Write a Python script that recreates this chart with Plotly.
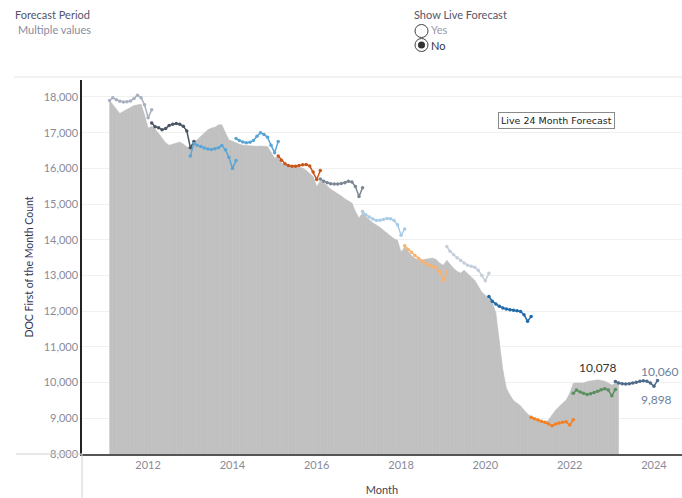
import pandas as pd
import plotly.graph_objects as go

# ---------------- data ----------------
actual_start = "2011-02-01"
actual_values = [
    17900, 17780, 17650, 17540, 17600, 17650, 17720, 17760, 17780, 17800, 17500,
    17130, 17180, 17100, 16980, 16850, 16720, 16650, 16680, 16720, 16740, 16680, 16600,
    16600, 16740, 16800, 16900, 17000, 17080, 17130, 17150, 17220, 17220, 17000, 16800,
    16760, 16710, 16680, 16650, 16640, 16620, 16610, 16620, 16630, 16620, 16610, 16450,
    16290, 16330, 16150, 16100, 16080, 16060, 16040, 16020, 16010, 15950, 15860, 15770,
    15490, 15650, 15600, 15500, 15420, 15350, 15300, 15230, 15150, 15090, 15030, 14800,
    14610, 14750, 14650, 14560, 14480, 14420, 14350, 14270, 14190, 14100, 14030, 13990,
    13660, 13800, 13680, 13560, 13480, 13430, 13440, 13450, 13470, 13490, 13450, 13350,
    13290, 13430, 13320, 13200, 13120, 13070, 13150, 13050, 12950, 12870, 12700, 12540,
    12450, 12350, 12260, 11950, 11200, 10350, 9850, 9650, 9500, 9420, 9350, 9230,
    9120, 9050, 8970, 8920, 8900, 8890, 8950, 9100, 9230, 9330, 9420, 9510,
    9700, 9980, 9990, 10000, 9990, 10030, 10040, 10060, 10078, 10060, 10040, 9990,
    9930, 9980, 10020,
]

fc_2011_start = "2011-02-01"
fc_2011 = [17900, 17980, 17920, 17880, 17860, 17870, 17890, 17960, 18050, 17980, 17780, 17420, 17640]
fc_2012_start = "2012-02-01"
fc_2012 = [17270, 17170, 17140, 17080, 17120, 17200, 17240, 17260, 17240, 17180, 17050, 16580, 16750]
fc_2013_start = "2013-01-01"
fc_2013 = [16350, 16700, 16650, 16610, 16570, 16540, 16530, 16550, 16580, 16640, 16520, 16310, 16000, 16220]
fc_2014_start = "2014-02-01"
fc_2014 = [16840, 16780, 16740, 16720, 16730, 16780, 16900, 17000, 16950, 16870, 16650, 16440, 16750]
fc_2015_start = "2015-02-01"
fc_2015 = [16350, 16230, 16130, 16080, 16060, 16060, 16080, 16100, 16110, 16070, 15900, 15690, 15940]
fc_2016_start = "2016-02-01"
fc_2016 = [15700, 15640, 15600, 15570, 15560, 15560, 15580, 15600, 15640, 15620, 15490, 15210, 15460]
fc_2017_start = "2017-02-01"
fc_2017 = [14790, 14700, 14640, 14580, 14540, 14550, 14570, 14600, 14590, 14540, 14420, 14130, 14300]
fc_2018_start = "2018-02-01"
fc_2018 = [13830, 13730, 13650, 13560, 13480, 13400, 13340, 13290, 13250, 13220, 13110, 12870, 13100]
fc_2019_start = "2019-02-01"
fc_2019 = [13810, 13680, 13580, 13500, 13420, 13350, 13290, 13260, 13230, 13150, 13000, 12850, 13060]
fc_2020_start = "2020-02-01"
fc_2020 = [12410, 12280, 12200, 12140, 12090, 12060, 12040, 12030, 12010, 11990, 11900, 11720, 11850]
fc_2021_start = "2021-02-01"
fc_2021 = [9030, 8990, 8950, 8920, 8890, 8850, 8790, 8840, 8870, 8890, 8900, 8810, 8960]
fc_2022_start = "2022-02-01"
fc_2022 = [9700, 9790, 9740, 9700, 9670, 9690, 9720, 9760, 9800, 9830, 9790, 9630, 9810]
fc_2023_start = "2023-02-01"
fc_2023 = [10030, 9990, 9970, 9960, 9970, 9990, 10010, 10040, 10050, 10040, 9990, 9898, 10060]

forecasts = [
    (fc_2011_start, fc_2011, "#a9b1c1"),
    (fc_2012_start, fc_2012, "#4b5463"),
    (fc_2013_start, fc_2013, "#5aa5d6"),
    (fc_2014_start, fc_2014, "#5aa5d6"),
    (fc_2015_start, fc_2015, "#c9561a"),
    (fc_2016_start, fc_2016, "#7b8794"),
    (fc_2017_start, fc_2017, "#a8cce8"),
    (fc_2018_start, fc_2018, "#f9b26e"),
    (fc_2019_start, fc_2019, "#c4ceda"),
    (fc_2020_start, fc_2020, "#1f6aa8"),
    (fc_2021_start, fc_2021, "#f57f20"),
    (fc_2022_start, fc_2022, "#5a8f5f"),
    (fc_2023_start, fc_2023, "#4e6b8a"),
]

y_ticks = [8000, 9000, 10000, 11000, 12000, 13000, 14000, 15000, 16000, 17000, 18000]

# ---------------- figure ----------------
W, H = 682, 498
ML, MR, MT, MB = 82, 0, 80, 44
PW, PH = W - ML - MR, H - MT - MB
Y_MIN = 8000


def px(x):
    return (x - ML) / PW


def py(y):
    return (H - MB - y) / PH


fig = go.Figure()

actual_dates = pd.date_range(actual_start, periods=len(actual_values), freq="MS")
fig.add_trace(go.Scatter(
    x=actual_dates, y=actual_values, mode="lines",
    line=dict(color="#c0c0c0", width=0.5),
    fill="tozeroy", fillcolor="#c0c0c0", hoverinfo="x+y", showlegend=False,
))
# faint month seams inside the area (as Tableau renders them)
sx, sy = [], []
for d, v in zip(actual_dates, actual_values):
    sx += [d, d, None]
    sy += [Y_MIN, v, None]
fig.add_trace(go.Scatter(x=sx, y=sy, mode="lines", line=dict(color="#c6c6c6", width=0.5),
                         hoverinfo="skip", showlegend=False))

for start, vals, col in forecasts:
    d = pd.date_range(start, periods=len(vals), freq="MS")
    fig.add_trace(go.Scatter(
        x=d, y=vals, mode="lines+markers",
        line=dict(color=col, width=1.5),
        marker=dict(color=col, size=3.5),
        showlegend=False,
    ))

font = "Lato, 'Open Sans', sans-serif"

# value labels
peak_i = actual_values.index(max(actual_values[120:]))
fig.add_annotation(x=actual_dates[peak_i], y=actual_values[peak_i], text="10,078",
                   showarrow=False, yshift=12, font=dict(family=font, size=12, color="#333333"))
last_dates = pd.date_range(fc_2023_start, periods=len(fc_2023), freq="MS")
min_i = fc_2023.index(min(fc_2023))
fig.add_annotation(x=last_dates[min_i], y=fc_2023[min_i], text=f"{fc_2023[min_i]:,}",
                   showarrow=False, yshift=-13, xshift=3,
                   font=dict(family=font, size=12, color="#6b829c"))
fig.add_annotation(xref="paper", x=1.0, y=fc_2023[-1], text=f"{fc_2023[-1]:,}",
                   showarrow=False, xanchor="right", xshift=-1, yshift=9,
                   font=dict(family=font, size=12, color="#6b829c"))

# legend-like box
fig.add_annotation(xref="paper", yref="paper", x=px(615), y=py(112),
                   text="Live 24 Month Forecast", showarrow=False,
                   bordercolor="#8a8a8a", borderwidth=1, borderpad=2, bgcolor="white",
                   font=dict(family="'DejaVu Sans', sans-serif", size=9.5, color="#222222"))

# header texts
def txt(x, y, s, color, size=11):
    fig.add_annotation(xref="paper", yref="paper", x=px(x), y=py(y), text=s,
                       showarrow=False, xanchor="left", yanchor="middle",
                       font=dict(family=font, size=size, color=color))

txt(13, 15, "Forecast Period", "#55556a")
txt(16, 30, "Multiple values", "#8a8aa0")
txt(412, 15, "Show Live Forecast", "#55556a")
txt(429, 30, "Yes", "#9a9aa8")
txt(429, 45, "No", "#333344")

shapes = []
# radio buttons
for cy, filled in [(31, False), (45, True)]:
    shapes.append(dict(type="circle", xref="paper", yref="paper",
                       x0=px(415), x1=px(428), y0=py(cy + 6.5), y1=py(cy - 6.5),
                       line=dict(color="#444444", width=1), fillcolor="white"))
    if filled:
        shapes.append(dict(type="circle", xref="paper", yref="paper",
                           x0=px(418), x1=px(425), y0=py(cy + 3.5), y1=py(cy - 3.5),
                           line=dict(color="#333333", width=0), fillcolor="#333333"))
# separator and pane lines
shapes.append(dict(type="line", xref="paper", yref="paper", x0=px(14), x1=px(682),
                   y0=py(77), y1=py(77), line=dict(color="#e4e4e4", width=1)))
shapes.append(dict(type="line", xref="paper", yref="paper", x0=px(16), x1=px(82),
                   y0=0, y1=0, line=dict(color="#d0d0d0", width=1)))
shapes.append(dict(type="line", xref="paper", yref="paper", x0=0, x1=0,
                   y0=0, y1=py(498), line=dict(color="#d0d0d0", width=1)))
fig.update_layout(shapes=shapes)

fig.update_layout(
    width=W, height=H,
    margin=dict(l=ML, r=MR, t=MT, b=MB, autoexpand=False),
    paper_bgcolor="white", plot_bgcolor="white",
    font=dict(family=font, size=11, color="#888899"),
    showlegend=False,
    xaxis=dict(
        type="date", range=["2010-06-07", "2024-08-31"], automargin=False,
        tick0="2012-01-01", dtick="M24", tickformat="%Y",
        showgrid=False, zeroline=False, ticks="",
        showline=True, linecolor="#555555", linewidth=1.5,
        tickfont=dict(family=font, size=11, color="#8a8a99"),
        title=dict(text="Month", font=dict(family=font, size=11, color="#444455"), standoff=16),
    ),
    yaxis=dict(
        range=[Y_MIN, 18476], tickvals=y_ticks, automargin=False,
        ticktext=[f"{v:,}" for v in y_ticks],
        showgrid=True, gridcolor="#f0f0f0", gridwidth=1, zeroline=False, ticks="",
        showline=True, linecolor="#222222", linewidth=1.5,
        tickfont=dict(family=font, size=11, color="#8a8a99"),
        title=dict(text="DOC First of the Month Count", font=dict(family=font, size=10.5, color="#333355"), standoff=8),
    ),
)

fig.write_html(
    "out.html",
    config={"displayModeBar": False},
    post_script="document.body.style.margin='0';document.body.style.overflow='hidden';",
)
